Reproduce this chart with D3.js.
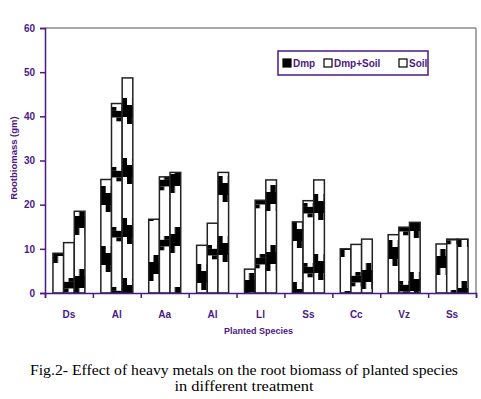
<!DOCTYPE html>
<html>
<head>
<meta charset="utf-8">
<script src="https://cdn.jsdelivr.net/npm/d3@7"></script>
<style>
  body { margin: 0; background: #fff; }
  svg { display: block; }
</style>
</head>
<body>
<div id="chart"></div>
<script>
const species = ['Ds', 'Al', 'Aa', 'Al', 'Ll', 'Ss', 'Cc', 'Vz', 'Ss']
const seriesNames = ['Dmp', 'Dmp+Soil', 'Soil']
const dmp = [9.0, 25.7, 16.7, 10.8, 5.4, 16.1, 10.0, 13.2, 11.1]
const dmpSoil = [11.4, 42.9, 26.3, 15.8, 21.0, 20.9, 11.0, 14.9, 12.2]
const soil = [18.5, 48.7, 27.3, 27.3, 25.6, 25.6, 12.2, 16.0, 12.2]
const yTicks = [0, 10, 20, 30, 40, 50, 60]

const purple = '#4b1a86'
const width = 481
const height = 399
const margin = { top: 28, right: 5, bottom: 106, left: 45 }
const plotW = width - margin.left - margin.right
const plotH = height - margin.top - margin.bottom

const svg = d3.select('#chart')
  .append('svg')
  .attr('width', width)
  .attr('height', height)

const defs = svg.append('defs')
const g = svg.append('g')
  .attr('transform', `translate(${margin.left}, ${margin.top})`)

const x = d3.scaleBand().domain(d3.range(species.length)).range([0, plotW])
  .paddingInner(0.332).paddingOuter(0.166)
const x1 = d3.scaleBand().domain(d3.range(3)).range([0, x.bandwidth()])
const y = d3.scaleLinear().domain([0, 60]).range([plotH, 0])
const xEdge = d3.scaleLinear().domain([0, species.length]).range([0, plotW])

const rows = species.map((s, i) => ({ i, values: [dmp[i], dmpSoil[i], soil[i]] }))

// coarse black block texture seen inside every bar
const offsets = [29, 10, 1]
const period = 60
rows.forEach((r) => {
  r.values.forEach((v, j) => {
    const bw = x1.bandwidth()
    const p = defs.append('pattern')
      .attr('id', `pat-${r.i}-${j}`)
      .attr('patternUnits', 'userSpaceOnUse')
      .attr('x', margin.left + x(r.i) + x1(j))
      .attr('y', offsets[j] + r.i * 9)
      .attr('width', bw)
      .attr('height', period)
    p.append('rect').attr('width', bw).attr('height', period).attr('fill', '#fff')
    const s = j === 1 ? 0.55 : 1
    p.append('rect').attr('x', bw / 2).attr('y', 0).attr('width', bw / 2).attr('height', 7 * s).attr('fill', '#000')
    p.append('rect').attr('x', 0).attr('y', 7 * s).attr('width', bw).attr('height', 12 * s).attr('fill', '#000')
    p.append('rect').attr('x', 0).attr('y', 19 * s).attr('width', bw / 2).attr('height', 7 * s).attr('fill', '#000')
  })
})

// frame: top gridline and right edge
g.append('line')
  .attr('x1', 0).attr('x2', plotW).attr('y1', y(60)).attr('y2', y(60))
  .attr('stroke', '#8a8a8a').attr('stroke-width', 1.5)
g.append('line')
  .attr('x1', plotW).attr('x2', plotW).attr('y1', y(60)).attr('y2', plotH)
  .attr('stroke', '#8a8a8a').attr('stroke-width', 1.5)

// bars
const groups = g.selectAll('.grp')
  .data(rows)
  .enter()
  .append('g')
  .attr('class', 'grp')
  .attr('transform', (d) => `translate(${x(d.i)}, 0)`)

groups.selectAll('rect')
  .data((d) => d.values.map((v, j) => ({ i: d.i, j, v })))
  .enter()
  .append('rect')
  .attr('x', (d) => x1(d.j))
  .attr('y', (d) => y(d.v))
  .attr('width', x1.bandwidth())
  .attr('height', (d) => y(0) - y(d.v))
  .attr('fill', (d) => `url(#pat-${d.i}-${d.j})`)
  .attr('stroke', '#222')
  .attr('stroke-width', 1.5)

// axes
g.append('g')
  .attr('class', 'axis y-axis')
  .call(d3.axisLeft(y).tickValues(yTicks).tickSize(5).tickPadding(5))
g.append('g')
  .attr('class', 'axis x-axis')
  .attr('transform', `translate(0, ${plotH})`)
  .call(d3.axisBottom(xEdge).tickValues(d3.range(species.length + 1)).tickSize(5).tickFormat(''))
const xLabels = g.append('g')
  .attr('transform', `translate(0, ${plotH})`)
  .call(d3.axisBottom(x).tickSize(0).tickPadding(18).tickFormat((i) => species[i]))
xLabels.select('.domain').remove()

g.selectAll('.domain, .tick line')
  .attr('stroke', purple)
  .attr('stroke-width', 1.5)
g.selectAll('.tick text')
  .attr('fill', purple)
  .style('font-family', 'Liberation Sans, Arial, sans-serif')
  .style('font-size', '10px')
  .style('font-weight', 'bold')

// axis titles
svg.append('text')
  .text('Planted Species')
  .attr('x', margin.left + plotW / 2 - 2)
  .attr('y', 334)
  .attr('text-anchor', 'middle')
  .attr('fill', purple)
  .style('font-family', 'Liberation Sans, Arial, sans-serif')
  .style('font-size', '9px')
  .style('font-weight', 'bold')
svg.append('text')
  .text('Rootbiomass (gm)')
  .attr('transform', `translate(17, 158) rotate(-90)`)
  .attr('text-anchor', 'middle')
  .attr('fill', purple)
  .style('font-family', 'Liberation Sans, Arial, sans-serif')
  .style('font-size', '9.5px')
  .style('font-weight', 'bold')

// legend
const legend = svg.append('g').attr('transform', 'translate(278, 51)')
legend.append('rect')
  .attr('width', 150).attr('height', 24)
  .attr('fill', '#fff').attr('stroke', purple).attr('stroke-width', 1.5)
const legendX = [5, 46, 121]
seriesNames.forEach((name, j) => {
  const item = legend.append('g').attr('transform', `translate(${legendX[j]}, 0)`)
  item.append('rect')
    .attr('x', 0).attr('y', 8).attr('width', 8).attr('height', 8)
    .attr('fill', j === 0 ? '#000' : '#fff')
    .attr('stroke', '#000').attr('stroke-width', 1.2)
  item.append('text')
    .text(name)
    .attr('x', 10).attr('y', 16)
    .attr('fill', purple)
    .style('font-family', 'Liberation Sans, Arial, sans-serif')
    .style('font-size', '10px')
    .style('font-weight', 'bold')
})

// caption
const caption = [
  { text: 'Fig.2- Effect of heavy metals on the root biomass of planted species', y: 375, len: 428 },
  { text: 'in different treatment', y: 391, len: 139 }
]
svg.selectAll('.caption')
  .data(caption)
  .enter()
  .append('text')
  .attr('class', 'caption')
  .text((d) => d.text)
  .attr('x', 244)
  .attr('y', (d) => d.y)
  .attr('text-anchor', 'middle')
  .attr('textLength', (d) => d.len)
  .attr('lengthAdjust', 'spacingAndGlyphs')
  .attr('fill', '#000')
  .style('font-family', 'Liberation Serif, Times New Roman, serif')
  .style('font-size', '14px')
</script>
</body>
</html>
